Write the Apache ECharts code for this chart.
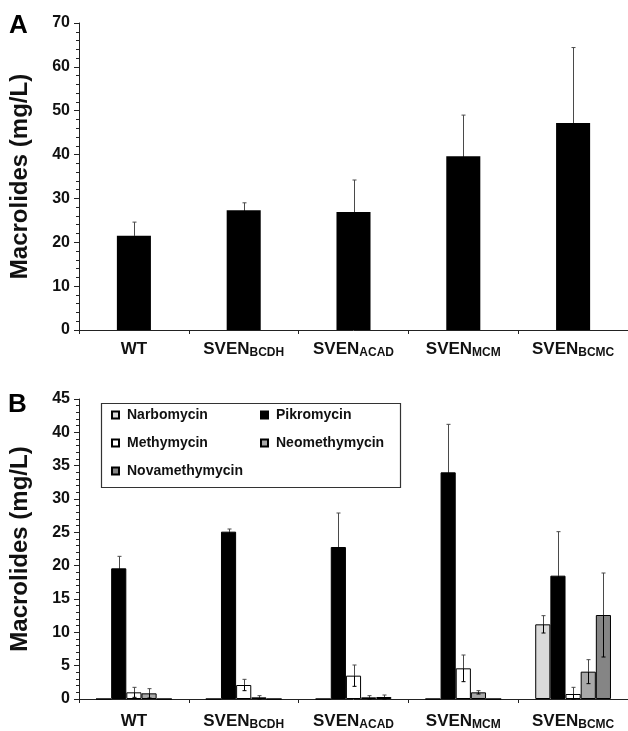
<!DOCTYPE html>
<html><head><meta charset="utf-8">
<script src="https://cdn.jsdelivr.net/npm/echarts@6/dist/echarts.min.js"></script>
<style>html,body{margin:0;padding:0;background:#fff}#c{width:628px;height:731px}</style>
</head><body><div id="c"></div>
<script>
// ---- data ----
const categories = ['WT', 'SVEN_BCDH', 'SVEN_ACAD', 'SVEN_MCM', 'SVEN_BCMC'];
const totalMean = [21.5, 27.3, 26.9, 39.6, 47.2];
const totalErr  = [3.1, 1.7, 7.3, 9.4, 17.2];

const compNames = ['Narbomycin', 'Pikromycin', 'Methymycin', 'Neomethymycin', 'Novamethymycin'];
const narbomycin     = [0, 0, 0, 0, 11.2];
const narbomycinErr  = [0, 0, 0, 0, 1.3];
const pikromycin     = [19.6, 25.1, 22.8, 34.0, 18.5];
const pikromycinErr  = [1.8, 0.4, 5.1, 7.2, 6.6];
const methymycin     = [1.0, 2.1, 3.5, 4.6, 0.75];
const methymycinErr  = [0.75, 0.85, 1.6, 2.0, 1.0];
const neomethymycin  = [0.85, 0.25, 0.25, 1.0, 4.1];
const neomethymycinErr = [0.7, 0.25, 0.25, 0.25, 1.8];
const novamethymycin = [0, 0, 0.3, 0, 12.6];
const novamethymycinErr = [0, 0, 0.3, 0, 6.3];

const yTicksA = {min: 0, max: 70, interval: 10};
const yTicksB = {min: 0, max: 45, interval: 5};

const compValues = [narbomycin, pikromycin, methymycin, neomethymycin, novamethymycin];
const compErrs = [narbomycinErr, pikromycinErr, methymycinErr, neomethymycinErr, novamethymycinErr];
const compColors = ['#dadada', '#000000', '#ffffff', '#a8a8a8', '#858585'];

const FONT = 'Liberation Sans, Arial, Helvetica, sans-serif';
const AXC = '#222';

function catFormatter(v) {
  const p = v.split('_');
  return p.length > 1 ? '{m|' + p[0] + '}{s|' + p[1] + '}' : '{m|' + v + '}';
}
const richLab = {
  m: {fontSize: 17, fontWeight: 'bold', fontFamily: FONT, color: '#111', lineHeight: 20, verticalAlign: 'middle'},
  s: {fontSize: 12, fontWeight: 'bold', fontFamily: FONT, color: '#111', lineHeight: 11, verticalAlign: 'bottom'}
};

function errRender(idx, n, gap) {
  return function (params, api) {
    const x = api.value(0), v = api.value(1), e = api.value(2);
    if (!e) return null;
    const c = api.coord([x, v]);
    const t = api.coord([x, v + e]);
    const b = api.coord([x, Math.max(v - e, 0)]);
    const band = api.size([1, 0])[0];
    const bw = band * (1 - gap) / n;
    const cx = Math.round(c[0] + (idx - (n - 1) / 2) * bw) + 0.5;
    const hw = 2;
    const up = {stroke: '#4a4a4a', lineWidth: 1};
    const dn = {stroke: '#000', lineWidth: 1};
    return {type: 'group', children: [
      {type: 'line', shape: {x1: cx, y1: t[1], x2: cx, y2: c[1]}, style: up},
      {type: 'line', shape: {x1: cx, y1: c[1], x2: cx, y2: b[1]}, style: dn},
      {type: 'line', shape: {x1: cx - hw, y1: t[1], x2: cx + hw, y2: t[1]}, style: up},
      {type: 'line', shape: {x1: cx - hw, y1: b[1], x2: cx + hw, y2: b[1]}, style: dn}
    ]};
  };
}

function xAxisCfg(gridIndex, margin) {
  return {
    type: 'category', gridIndex: gridIndex, data: categories,
    axisLine: {lineStyle: {color: AXC, width: 1}},
    axisTick: {show: true, length: 4, lineStyle: {color: AXC}},
    axisLabel: {formatter: catFormatter, rich: richLab, margin: margin, interval: 0},
    splitLine: {show: false}
  };
}
function yAxisCfg(gridIndex, t) {
  return {
    type: 'value', gridIndex: gridIndex, min: t.min, max: t.max, interval: t.interval,
    name: 'Macrolides (mg/L)', nameLocation: 'middle', nameGap: 47,
    nameTextStyle: {fontSize: 24, fontWeight: 'bold', fontFamily: FONT, color: '#111'},
    axisLine: {show: true, lineStyle: {color: AXC, width: 1}},
    axisTick: {show: true, length: 5, lineStyle: {color: AXC}},
    minorTick: {show: true, splitNumber: 5, length: 3, lineStyle: {color: AXC}},
    axisLabel: {fontSize: 16, fontWeight: 'bold', fontFamily: FONT, color: '#111', margin: 9},
    splitLine: {show: false}
  };
}

const gapB = 0.31;
const series = [];
series.push({
  type: 'bar', name: 'Total', xAxisIndex: 0, yAxisIndex: 0, data: totalMean,
  barCategoryGap: '69%', itemStyle: {color: '#000'}, z: 2
});
series.push({
  type: 'custom', name: 'errA', xAxisIndex: 0, yAxisIndex: 0, z: 5,
  renderItem: errRender(0, 1, 0.69),
  data: totalMean.map((v, i) => [i, v, totalErr[i]])
});
compNames.forEach((nm, k) => {
  series.push({
    type: 'bar', name: nm, xAxisIndex: 1, yAxisIndex: 1, data: compValues[k],
    barGap: '0%', barCategoryGap: (gapB * 100) + '%',
    itemStyle: {color: compColors[k], borderColor: '#000', borderWidth: 1}, z: 2
  });
});
compNames.forEach((nm, k) => {
  series.push({
    type: 'custom', name: 'err_' + nm, xAxisIndex: 1, yAxisIndex: 1, z: 5,
    renderItem: errRender(k, compNames.length, gapB),
    data: compValues[k].map((v, i) => [i, v, compErrs[k][i]])
  });
});

const legendText = {fontSize: 14, fontWeight: 'bold', fontFamily: FONT, color: '#111', lineHeight: 28, padding: [0, 0, 0, 3]};

const option = {
  animation: false,
  backgroundColor: '#fff',
  title: [
    {text: 'A', left: 9, top: 13, padding: 0, textStyle: {fontSize: 26, fontWeight: 'bold', fontFamily: FONT, color: '#000'}},
    {text: 'B', left: 8, top: 392, padding: 0, textStyle: {fontSize: 26, fontWeight: 'bold', fontFamily: FONT, color: '#000'}}
  ],
  grid: [
    {left: 79, top: 23, width: 550, height: 307},
    {left: 79, top: 399, width: 550, height: 305}
  ],
  xAxis: [xAxisCfg(0, 9), xAxisCfg(1, 12)],
  yAxis: [yAxisCfg(0, yTicksA), yAxisCfg(1, yTicksB)],
  legend: [
    {data: [compNames[0], compNames[2], compNames[4]], orient: 'vertical', left: 111, top: 401, padding: 0,
     itemGap: 0, itemWidth: 7, itemHeight: 7, icon: 'rect', selectedMode: false, textStyle: legendText},
    {data: [compNames[1], compNames[3]], orient: 'vertical', left: 260, top: 401, padding: 0,
     itemGap: 0, itemWidth: 7, itemHeight: 7, icon: 'rect', selectedMode: false, textStyle: legendText}
  ],
  graphic: [
    {type: 'rect', left: 99, top: 401, shape: {width: 299, height: 84}, style: {fill: 'none', stroke: '#333', lineWidth: 1.2}, z: 10}
  ],
  series: series
};

const chart = echarts.init(document.getElementById('c'), null, {renderer: 'canvas'});
chart.setOption(option);
</script>
</body></html>
